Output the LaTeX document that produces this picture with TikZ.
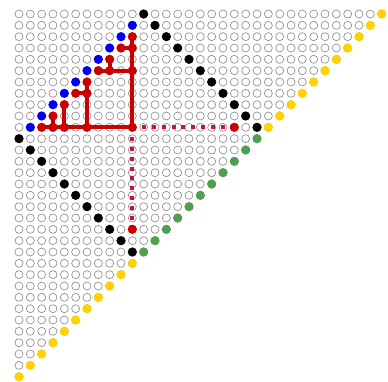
\documentclass[tikz,border=0pt]{standalone}
\begin{document}
\begin{tikzpicture}[x=11.334pt,y=-11.334pt,
  hollow/.style={circle,draw=gray!85,line width=0.7pt,minimum size=8pt,inner sep=0pt},
  dot/.style={circle,fill=#1,draw=none,minimum size=9.2pt,inner sep=0pt},
  tree/.style={draw=treered,line width=4.3pt},
  dashline/.style={draw=dashred,line width=3.8pt,dash pattern=on 4pt off 5.8pt,dash phase=0pt}]
\definecolor{treered}{RGB}{204,0,0}
\definecolor{dashred}{RGB}{200,16,78}
\definecolor{dotblue}{RGB}{0,0,240}
\definecolor{dotgreen}{RGB}{80,158,80}
\definecolor{dotyellow}{RGB}{255,210,0}
\useasboundingbox (-1.676,-1.235) rectangle (32.557,32.469);
% grid of hollow circles
\foreach \r in {0,...,32}{
  \pgfmathtruncatemacro\m{32-\r}
  \foreach \c in {0,...,\m}{
    \node[hollow] (g-\r-\c) at (\c,\r) {};
  }
}
% diagonals
\foreach \r in {0,...,10}{
  \pgfmathtruncatemacro\c{11+\r}
  \node[dot=black] (k-\r) at (g-\r-\c) {};
  \pgfmathtruncatemacro\y{32-\r}
  \node[dot=dotyellow] (y-\r) at (g-\r-\y) {};
}
\foreach \r in {1,...,10}{
  \pgfmathtruncatemacro\c{11-\r}
  \node[dot=dotblue] (b-\r) at (g-\r-\c) {};
}
\foreach \r in {11,...,21}{
  \pgfmathtruncatemacro\c{\r-11}
  \node[dot=black] (k-\r) at (g-\r-\c) {};
  \pgfmathtruncatemacro\gc{32-\r}
  \node[dot=dotgreen] (gr-\r) at (g-\r-\gc) {};
}
\foreach \r in {22,...,32}{
  \pgfmathtruncatemacro\y{32-\r}
  \node[dot=dotyellow] (y-\r) at (g-\r-\y) {};
}
% dashed paths
\draw[dashline] (g-10-10.center) -- (g-10-19.center);
\draw[dashline] (g-10-10.center) -- (g-19-10.center);
% red tree
\draw[tree] (g-2-10.center) -- (g-10-10.center);
\draw[tree] (g-3-9.center) -- (g-3-10.center);
\draw[tree] (g-4-8.center) -- (g-5-8.center);
\draw[tree] (g-5-7.center) -- (g-5-10.center);
\draw[tree] (g-6-6.center) -- (g-10-6.center);
\draw[tree] (g-7-5.center) -- (g-7-6.center);
\draw[tree] (g-8-4.center) -- (g-10-4.center);
\draw[tree] (g-9-3.center) -- (g-10-3.center);
\draw[tree] (g-10-2.center) -- (g-10-10.center);
\foreach \r/\c in {2/10,3/9,3/10,4/8,5/7,5/8,5/10,6/6,7/5,7/6,8/4,9/3,10/2,10/3,10/4,10/6,10/10,10/19,19/10}{
  \node[dot=treered] (r-\r-\c) at (g-\r-\c) {};
}
\end{tikzpicture}
\end{document}
